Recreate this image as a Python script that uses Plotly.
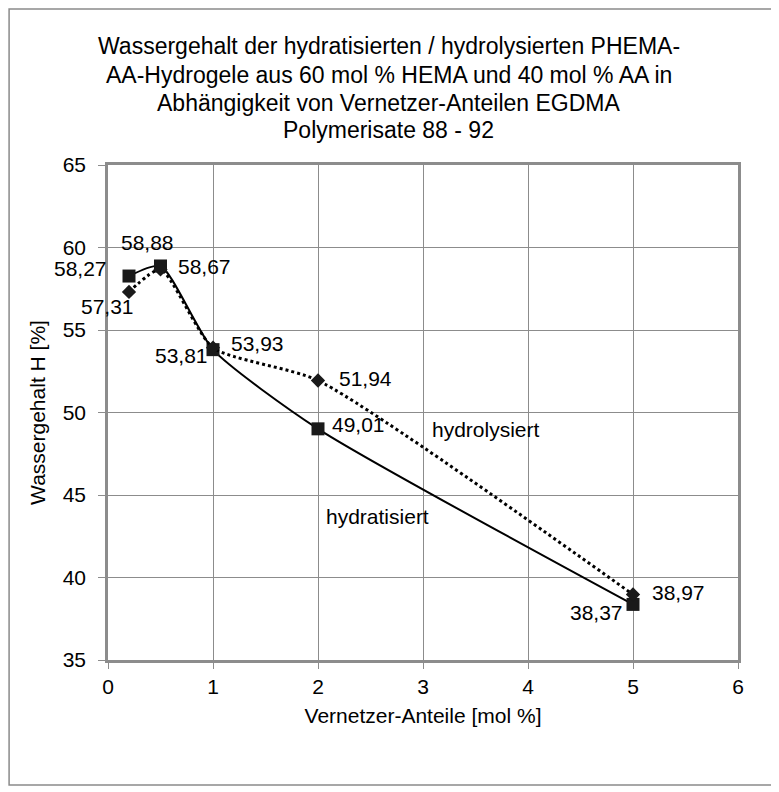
import plotly.graph_objects as go

x_vals = [0.2, 0.5, 1, 2, 5]
hydratisiert = [58.27, 58.88, 53.81, 49.01, 38.37]
hydrolysiert = [57.31, 58.67, 53.93, 51.94, 38.97]

hydrat_labels = ["58,27", "58,88", "53,81", "49,01", "38,37"]
hydrol_labels = ["57,31", "58,67", "53,93", "51,94", "38,97"]

title_lines = [
    "Wassergehalt der hydratisierten / hydrolysierten PHEMA-",
    "AA-Hydrogele aus 60 mol % HEMA und 40 mol % AA in",
    "Abhängigkeit von Vernetzer-Anteilen EGDMA",
    "Polymerisate 88 - 92",
]

FONT = "Liberation Sans, Arial, sans-serif"
FS = 21

fig = go.Figure()
fig.add_trace(go.Scatter(
    x=x_vals, y=hydratisiert, mode="lines+markers", name="hydratisiert",
    line=dict(color="black", width=2, shape="spline", smoothing=0.6),
    marker=dict(symbol="square", size=13, color="#1a1a1a"),
))
fig.add_trace(go.Scatter(
    x=x_vals, y=hydrolysiert, mode="lines+markers", name="hydrolysiert",
    line=dict(color="black", width=3, dash="dot", shape="spline", smoothing=0.6),
    marker=dict(symbol="diamond", size=11, color="#1a1a1a"),
))

# data labels: (xshift, yshift) in pixels
hydrat_off = [(-49, 8), (-13, 23), (-32, -6), (40, 4), (-37, -8)]
hydrol_off = [(-22, -15), (44, 3), (44, 4), (47, 2), (45, 2)]
ann = []
for xv, yv, t, (dx, dy) in zip(x_vals, hydratisiert, hydrat_labels, hydrat_off):
    ann.append(dict(x=xv, y=yv, text=t, showarrow=False, xshift=dx, yshift=dy,
                    font=dict(family=FONT, size=FS, color="black")))
for xv, yv, t, (dx, dy) in zip(x_vals, hydrolysiert, hydrol_labels, hydrol_off):
    ann.append(dict(x=xv, y=yv, text=t, showarrow=False, xshift=dx, yshift=dy,
                    font=dict(family=FONT, size=FS, color="black")))
ann.append(dict(x=3.6, y=49.0, text="hydrolysiert", showarrow=False,
                font=dict(family=FONT, size=FS, color="black")))
ann.append(dict(x=2.57, y=43.7, text="hydratisiert", showarrow=False,
                font=dict(family=FONT, size=FS, color="black")))

# title lines as separate annotations for exact line spacing
title_y = [1.2404, 1.1818, 1.1253, 1.0707]
for t, yy in zip(title_lines, title_y):
    ann.append(dict(x=0.446, y=yy, xref="paper", yref="paper", text=t,
                    showarrow=False, xanchor="center", yanchor="middle",
                    font=dict(family=FONT, size=23, color="black")))

fig.update_layout(
    width=779, height=792,
    margin=dict(l=100, r=49, t=157, b=140),
    paper_bgcolor="white", plot_bgcolor="white",
    showlegend=False,
    font=dict(family=FONT, size=FS, color="black"),
    annotations=ann,
    shapes=[dict(type="rect", xref="paper", yref="paper",
                 x0=-0.157, x1=1.0556, y0=-0.2525, y1=1.315,
                 line=dict(color="#8a8a8a", width=1.5), layer="below")],
)
fig.update_xaxes(
    range=[0, 6], dtick=1, showgrid=True, gridcolor="#8c8c8c", gridwidth=1,
    showline=True, linecolor="#8c8c8c", linewidth=2.5, mirror=True,
    ticks="outside", ticklen=6, tickcolor="#8c8c8c", zeroline=False,
    title=dict(text="Vernetzer-Anteile [mol %]", font=dict(family=FONT, size=FS), standoff=12),
    tickfont=dict(family=FONT, size=FS),
)
fig.update_yaxes(
    range=[35, 65], dtick=5, showgrid=True, gridcolor="#8c8c8c", gridwidth=1,
    showline=True, linecolor="#8c8c8c", linewidth=2.5, mirror=True,
    ticks="outside", ticklen=7, tickcolor="#8c8c8c", zeroline=False,
    ticklabelstandoff=8,
    title=dict(text="Wassergehalt H [%]", font=dict(family=FONT, size=FS), standoff=12),
    tickfont=dict(family=FONT, size=FS),
)

fig.write_html("out.html")
